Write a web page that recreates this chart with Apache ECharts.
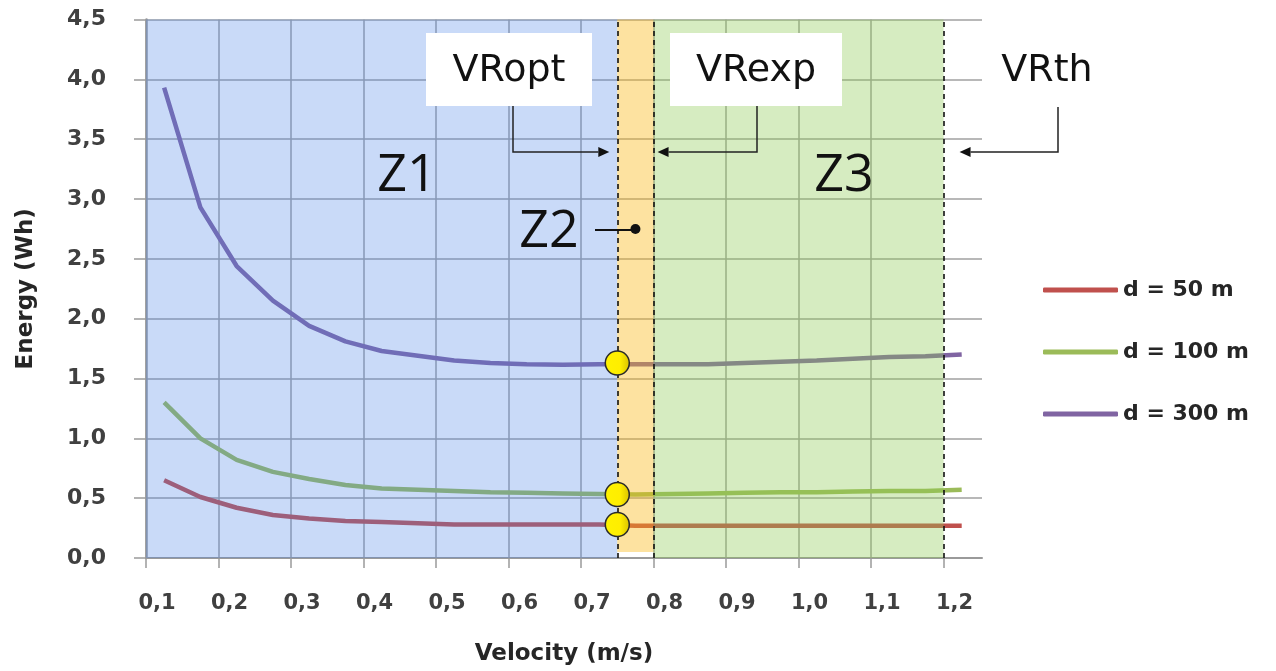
<!DOCTYPE html>
<html>
<head>
<meta charset="utf-8">
<script src="https://cdn.jsdelivr.net/npm/echarts@6/dist/echarts.min.js"></script>
<style>
html,body{margin:0;padding:0;background:#fff;}
#chart{width:1276px;height:671px;}
</style>
</head>
<body>
<div id="chart"></div>
<script>
// ---- data ----
const velocities = [0.125,0.175,0.225,0.275,0.325,0.375,0.425,0.475,0.525,0.575,0.625,0.675,0.725,0.775,0.825,0.875,0.925,0.975,1.025,1.075,1.125,1.175,1.225];
const seriesNames = ['d = 50 m','d = 100 m','d = 300 m'];
const energy50  = [0.65,0.51,0.42,0.36,0.33,0.31,0.30,0.29,0.28,0.28,0.28,0.28,0.28,0.27,0.27,0.27,0.27,0.27,0.27,0.27,0.27,0.27,0.27];
const energy100 = [1.30,1.00,0.82,0.72,0.66,0.61,0.58,0.57,0.56,0.55,0.545,0.54,0.535,0.53,0.535,0.54,0.545,0.55,0.55,0.555,0.56,0.56,0.57];
const energy300 = [3.93,2.93,2.44,2.15,1.94,1.81,1.73,1.69,1.65,1.63,1.62,1.615,1.62,1.62,1.62,1.62,1.63,1.64,1.65,1.665,1.68,1.685,1.70];
const optVelocity = 0.75;
const optEnergy = [0.28,0.53,1.63];
const zoneBounds = [0.1, 0.75, 0.8, 1.2];   // Z1 start, VRopt, VRexp, VRth
const xTicks = [0.1,0.2,0.3,0.4,0.5,0.6,0.7,0.8,0.9,1.0,1.1,1.2];
const yTicks = [0,0.5,1,1.5,2,2.5,3,3.5,4,4.5];
const zoneLabels = ['Z1','Z2','Z3'];
const vLabels = ['VRopt','VRexp','VRth'];
const colors = ['#C0504D','#9BBB59','#8064A2'];

const pair = (xs, ys) => xs.map((x,i)=>[x, ys[i]]);
const chart = echarts.init(document.getElementById('chart'), null, {renderer:'canvas'});

const comma = v => v.toFixed(1).replace('.', ',');
const xFmt = v => xTicks.some(t => Math.abs(t - v) < 1e-6) ? comma(v) : '';
const yFmt = v => comma(v);

const option = {
  animation: false,
  backgroundColor: '#ffffff',
  grid: {left: 146, top: 19.5, right: 294, bottom: 111.5, containLabel: false},
  legend: {
    orient: 'vertical', left: 1038, top: 273,
    icon: 'roundRect', itemWidth: 75, itemHeight: 5, itemGap: 38,
    data: seriesNames,
    textStyle: {fontFamily: 'DejaVu Sans', fontWeight: 'bold', fontSize: 22, color: '#262626', lineHeight: 24},
    selectedMode: false
  },
  xAxis: {
    type: 'value', min: 0.1, max: 1.253, interval: 0.1,
    name: 'Velocity (m/s)', nameLocation: 'middle', nameGap: 85,
    nameTextStyle: {fontFamily: 'DejaVu Sans', fontWeight: 'bold', fontSize: 23, color: '#262626'},
    axisLine: {show: true, lineStyle: {color: '#9a9a9a', width: 2}},
    axisTick: {show: true, inside: false, length: 10, lineStyle: {color: '#9a9a9a', width: 1.5}, customValues: xTicks},
    axisLabel: {show: true, margin: 35, formatter: xFmt, customValues: xTicks,
      fontFamily: 'DejaVu Sans', fontWeight: 'bold', fontSize: 21, color: '#404040', padding: [0,0,0,22]},
    splitLine: {show: true, showMaxLine: false, lineStyle: {color: '#a0a0a0', width: 1.5}}
  },
  yAxis: {
    type: 'value', min: 0, max: 4.5, interval: 0.5,
    name: 'Energy (Wh)', nameLocation: 'middle', nameGap: 108, nameRotate: 90,
    nameTextStyle: {fontFamily: 'DejaVu Sans', fontWeight: 'bold', fontSize: 23, color: '#262626'},
    axisLine: {show: true, lineStyle: {color: '#9a9a9a', width: 2.5}},
    axisTick: {show: true, inside: false, length: 12, lineStyle: {color: '#9a9a9a', width: 1.5}},
    axisLabel: {show: true, margin: 40, formatter: yFmt, customValues: yTicks,
      fontFamily: 'DejaVu Sans', fontWeight: 'bold', fontSize: 22, color: '#404040'},
    splitLine: {show: true, lineStyle: {color: '#a0a0a0', width: 1.5}}
  },
  series: [
    {name: seriesNames[0], type: 'line', z: 2, color: colors[0], data: pair(velocities, energy50),
      showSymbol: false, symbol: 'none', lineStyle: {width: 4.5, color: colors[0]}, emphasis: {disabled: true}},
    {name: seriesNames[1], type: 'line', z: 2, color: colors[1], data: pair(velocities, energy100),
      showSymbol: false, symbol: 'none', lineStyle: {width: 4.5, color: colors[1]}, emphasis: {disabled: true}},
    {name: seriesNames[2], type: 'line', z: 2, color: colors[2], data: pair(velocities, energy300),
      showSymbol: false, symbol: 'none', lineStyle: {width: 4.5, color: colors[2]}, emphasis: {disabled: true}},
    {name: 'zones', type: 'line', z: 5, data: [], silent: true,
      markArea: {silent: true, z: 5, label: {show: false},
        data: [
          [{xAxis: zoneBounds[0], yAxis: 0, itemStyle: {color: 'rgba(75,131,232,0.30)'}}, {xAxis: zoneBounds[1], yAxis: 4.5}],
          [{xAxis: zoneBounds[1], yAxis: 0.05, itemStyle: {color: 'rgba(250,182,17,0.40)'}}, {xAxis: zoneBounds[2], yAxis: 4.5}],
          [{xAxis: zoneBounds[2], yAxis: 0, itemStyle: {color: 'rgba(141,201,84,0.36)'}}, {xAxis: zoneBounds[3], yAxis: 4.5}]
        ]}
    },
    {name: 'limits', type: 'line', z: 6, data: [], silent: true,
      markLine: {silent: true, z: 6, symbol: ['none','none'], label: {show: false},
        lineStyle: {color: '#111', type: [5,4], width: 1.6},
        data: [{xAxis: zoneBounds[1]}, {xAxis: zoneBounds[2]}, {xAxis: zoneBounds[3]}]}
    },
    {name: 'optimum', type: 'scatter', z: 8, symbolSize: 24, silent: true,
      data: optEnergy.map(e => [optVelocity, e]),
      itemStyle: {
        color: {type: 'linear', x: 0, y: 0, x2: 1, y2: 0, colorStops: [
          {offset: 0, color: '#fff200'}, {offset: 0.6, color: '#ffee00'}, {offset: 1, color: '#d8c000'}]},
        borderColor: '#2a2a2a', borderWidth: 1.5, opacity: 1
      }
    }
  ]
};
chart.setOption(option);

// ---- annotations (positioned from axis values) ----
const P = (x, y) => chart.convertToPixel({gridIndex: 0}, [x, y]);
const xOpt = P(zoneBounds[1], 0)[0], xExp = P(zoneBounds[2], 0)[0], xTh = P(zoneBounds[3], 0)[0];
const g = [];
const txt = (s, cx, cy, size, family) => ({type: 'text', z: 100, style: {text: s, x: cx, y: cy, align: 'center', verticalAlign: 'middle',
  font: size + 'px "' + family + '"', fill: '#111'}});
const box = (x1, y1, x2, y2) => ({type: 'rect', z: 99, shape: {x: x1, y: y1, width: x2 - x1, height: y2 - y1}, style: {fill: '#ffffff'}});
function arrow(sx, sy, cy, tipx) {
  const dir = tipx > sx ? 1 : -1;
  const baseX = tipx - dir * 11;
  g.push({type: 'polyline', z: 100, shape: {points: [[sx, sy], [sx, cy], [baseX, cy]]}, style: {stroke: '#222', lineWidth: 1.5, fill: null}});
  g.push({type: 'polygon', z: 100, shape: {points: [[tipx, cy], [baseX, cy - 5], [baseX, cy + 5]]}, style: {fill: '#111'}});
}
// VRopt
g.push(box(426, 33, 592, 106));
g.push(txt(vLabels[0], 509, 71, 38, 'DejaVu Sans'));
arrow(513, 106, 152, xOpt - 8);
// VRexp
g.push(box(670, 33, 842, 106));
g.push(txt(vLabels[1], 756, 71, 38, 'DejaVu Sans'));
arrow(757, 106, 152, xExp + 4);
// VRth
g.push(txt(vLabels[2], 1047, 71, 38, 'DejaVu Sans'));
arrow(1058, 107, 152, xTh + 16);
// Zone labels
g.push(txt(zoneLabels[0], 407, 176, 52, 'Open Sans'));
g.push(txt(zoneLabels[2], 844, 176, 52, 'Open Sans'));
g.push(txt(zoneLabels[1], 549, 232, 52, 'Open Sans'));
const z2 = P((zoneBounds[1] + zoneBounds[2]) / 2, 2.75);
g.push({type: 'line', z: 100, shape: {x1: 595, y1: z2[1] + 1, x2: z2[0], y2: z2[1] + 1}, style: {stroke: '#111', lineWidth: 2}});
g.push({type: 'circle', z: 100, shape: {cx: z2[0], cy: z2[1], r: 5}, style: {fill: '#111'}});
chart.setOption({graphic: g});
</script>
</body>
</html>
